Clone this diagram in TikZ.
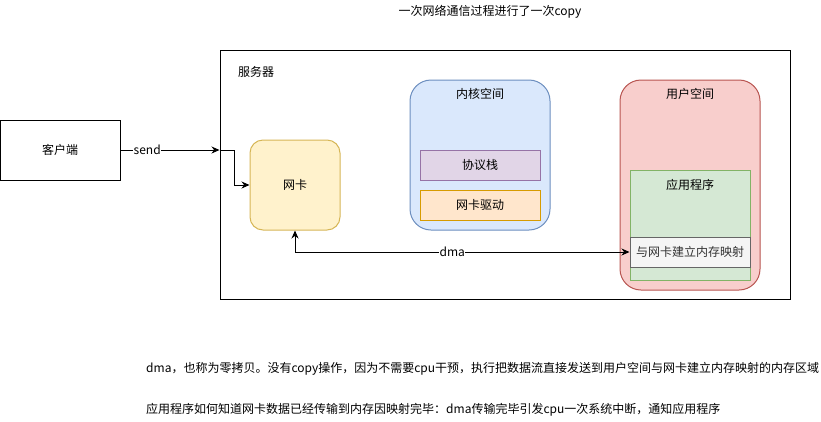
\documentclass[tikz,border=0pt]{standalone}
\usepackage{fontspec}
\setmainfont{Noto Sans CJK SC}
\usetikzlibrary{arrows.meta}
\definecolor{nicfill}{HTML}{FFF2CC}
\definecolor{nicline}{HTML}{D6B656}
\definecolor{kernfill}{HTML}{DAE8FC}
\definecolor{kernline}{HTML}{6C8EBF}
\definecolor{stackfill}{HTML}{E1D5E7}
\definecolor{stackline}{HTML}{9673A6}
\definecolor{drvfill}{HTML}{FFE6CC}
\definecolor{drvline}{HTML}{D79B00}
\definecolor{userfill}{HTML}{F8CECC}
\definecolor{userline}{HTML}{B85450}
\definecolor{appfill}{HTML}{D5E8D4}
\definecolor{appline}{HTML}{82B366}
\definecolor{mapfill}{HTML}{F5F5F5}
\definecolor{mapline}{HTML}{666666}
\definecolor{maptext}{HTML}{333333}
\tikzset{
  txt/.style={font=\fontsize{12}{14}\selectfont,inner sep=0pt},
  shapebox/.style={txt,draw,line width=1pt,inner sep=1pt},
  plainbox/.style={shapebox,minimum width=120,minimum height=60},
  framebox/.style={shapebox,minimum width=570,minimum height=249},
  nicbox/.style={shapebox,fill=nicfill,draw=nicline,rounded corners=13,minimum width=90,minimum height=90},
  spacebox/.style={shapebox,rounded corners=21,minimum width=140},
  kernbox/.style={spacebox,fill=kernfill,draw=kernline,minimum height=150},
  userbox/.style={spacebox,fill=userfill,draw=userline,minimum height=210},
  innerbox/.style={shapebox,minimum width=120,minimum height=30},
  stackbox/.style={innerbox,fill=stackfill,draw=stackline},
  drvbox/.style={innerbox,fill=drvfill,draw=drvline},
  appbox/.style={innerbox,fill=appfill,draw=appline,minimum height=110},
  mapbox/.style={innerbox,fill=mapfill,draw=mapline,text=maptext},
  flow/.style={-{Stealth[length=8pt,width=7pt]},line width=1pt},
  flowboth/.style={{Stealth[length=8pt,width=7pt]}-{Stealth[length=8pt,width=7pt]},line width=1pt},
  linelbl/.style={txt,fill=white,inner sep=0.5pt},
}
\begin{document}
\begin{tikzpicture}[x=1pt,y=-1pt]
  \useasboundingbox (0,0) rectangle (821,421);
  \node[txt] (title) at (490,12) {一次网络通信过程进行了一次copy};
  \node[plainbox] (client) at (60,150) {客户端};
  \node[framebox] (server) at (505,174.5) {};
  \node[txt,anchor=west] (serverlbl) at (238,72) {服务器};
  \node[nicbox] (nic) at (295,185) {网卡};
  \node[kernbox] (kernel) at (480,155) {};
  \node[txt] (kernlbl) at (480,94) {内核空间};
  \node[stackbox] (stack) at (480,165) {协议栈};
  \node[drvbox] (driver) at (480,205) {网卡驱动};
  \node[userbox] (user) at (690,185) {};
  \node[txt] (userlbl) at (690,94) {用户空间};
  \node[appbox] (app) at (690,225) {};
  \node[txt] (applbl) at (690,185) {应用程序};
  \node[mapbox] (map) at (690,252) {与网卡建立内存映射};
  \coordinate (sendin) at (server.west |- client.east);
  % arrows
  \draw[flow] (client) -- node[linelbl,pos=0.27] {send} (sendin);
  \draw[flow] (sendin) -- ++(15,0) |- (nic.west);
  \draw[flowboth] (nic.south) |- node[linelbl,pos=0.735] {dma} (map.west);
  % notes
  \node[txt,anchor=west] (note1) at (146,369) {dma，也称为零拷贝。没有copy操作，因为不需要cpu干预，执行把数据流直接发送到用户空间与网卡建立内存映射的内存区域};
  \node[txt,anchor=west] (note2) at (146,410) {应用程序如何知道网卡数据已经传输到内存因映射完毕：dma传输完毕引发cpu一次系统中断，通知应用程序};
\end{tikzpicture}
\end{document}
